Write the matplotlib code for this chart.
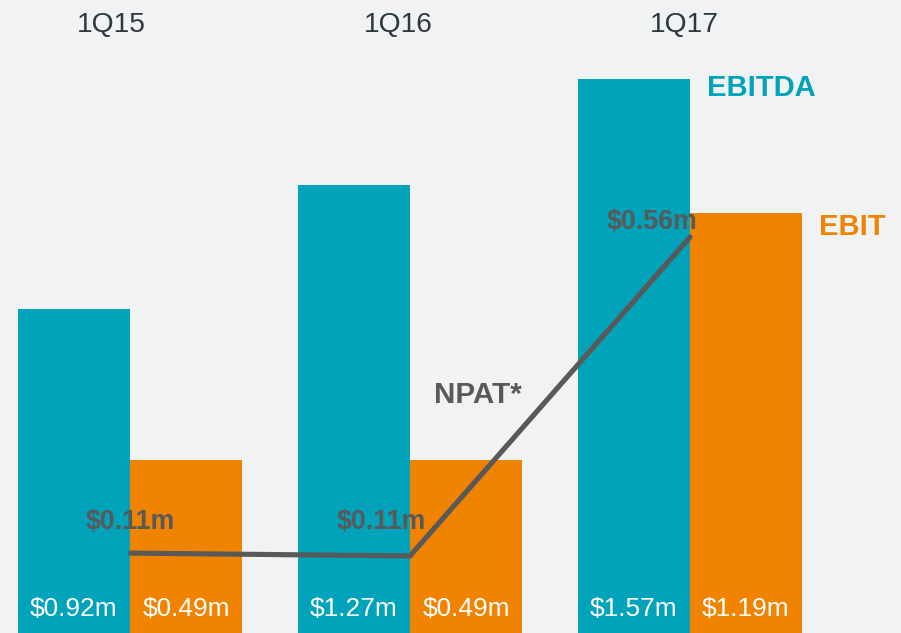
import numpy as np
import matplotlib.pyplot as plt

plt.rcParams['font.family'] = ['Liberation Sans', 'DejaVu Sans']

# data
quarters = ['1Q15', '1Q16', '1Q17']
ebitda = [0.92, 1.27, 1.57]
ebit = [0.49, 0.49, 1.19]
npat = [0.113, 0.109, 0.56]
ebitda_labels = ['$0.92m', '$1.27m', '$1.57m']
ebit_labels = ['$0.49m', '$0.49m', '$1.19m']
npat_labels = ['$0.11m', '$0.11m', '$0.56m']

teal = '#00a3b9'
orange = '#f08300'
grey = '#595959'
bg = '#f1f2f4'

W, H = 901, 633
fig = plt.figure(figsize=(W / 100, H / 100), dpi=100, facecolor=bg)
ax = fig.add_axes([0, 0, 1, 1])
ax.set_facecolor(bg)

x = np.arange(len(quarters))
w = 0.4
ax.bar(x - w / 2, ebitda, width=w, color=teal)
ax.bar(x + w / 2, ebit, width=w, color=orange)
ax.set_xlim(-130 / 280, 771 / 280)
ax.set_ylim(0, H / 352.7)
ax.axis('off')

# bar value labels at the bottom
for i in range(len(quarters)):
    ax.text(x[i] - w / 2, 17 / 352.7, ebitda_labels[i], color='white',
            fontsize=18.9, ha='center', va='baseline')
    ax.text(x[i] + w / 2, 17 / 352.7, ebit_labels[i], color='white',
            fontsize=18.9, ha='center', va='baseline')

# quarter headings (slightly left of group centres)
head_x = [111.5, 398, 684]
for i in range(len(quarters)):
    fig.text(head_x[i] / W, 1 - 31.7 / H, quarters[i], color='#2a393c',
             fontsize=20.3, ha='center', va='baseline')

# NPAT line on its own scale
ax2 = ax.twinx()
ax2.set_ylim(0, H / 707)
ax2.axis('off')
ax2.plot(x, npat, color=grey, lw=3.7, solid_capstyle='round')
offsets = [(0, 24), (-29, 27), (-38, 8)]
for i in range(len(quarters)):
    ax2.annotate(npat_labels[i], xy=(x[i], npat[i]), xytext=offsets[i],
                 textcoords='offset pixels', ha='center', va='baseline',
                 fontsize=19.3, fontweight='bold', color=grey)

fig.text(478 / W, 1 - 402.7 / H, 'NPAT*', color=grey, fontsize=21.3,
         fontweight='bold', ha='center', va='baseline')
fig.text(761.5 / W, 1 - 96 / H, 'EBITDA', color=teal, fontsize=21,
         fontweight='bold', ha='center', va='baseline')
fig.text(852 / W, 1 - 235 / H, 'EBIT', color=orange, fontsize=21,
         fontweight='bold', ha='center', va='baseline')

fig.savefig('out.png', dpi=100, facecolor=bg)
